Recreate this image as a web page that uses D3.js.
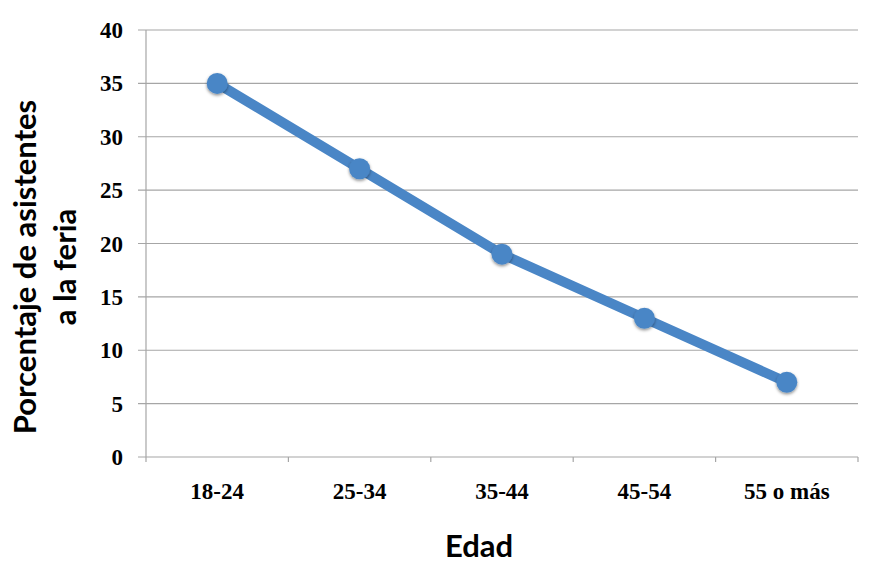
<!DOCTYPE html>
<html><head><meta charset="utf-8">
<script src="https://cdn.jsdelivr.net/npm/d3@7"></script>
<style>body{margin:0;background:#fff}</style>
</head><body>
<svg id="c" width="879" height="576"></svg>
<script>
const categories = ["18-24","25-34","35-44","45-54","55 o más"];
const values = [35, 27, 19, 13, 7];
const yTicks = [0,5,10,15,20,25,30,35,40];
const yTitle = ["Porcentaje de asistentes","a la feria"];
const xTitle = "Edad";

const svg = d3.select("#c");
const m = {l:146, r:858, t:30, b:457};
const x = d3.scaleBand().domain(categories).range([m.l, m.r]);
const y = d3.scaleLinear().domain([0,40]).range([m.b, m.t]);

const defs = svg.append("defs");
const f = defs.append("filter").attr("id","sh").attr("x","-50%").attr("y","-50%").attr("width","200%").attr("height","200%");
f.append("feDropShadow").attr("dx",0).attr("dy",1.5).attr("stdDeviation",1.6).attr("flood-color","#000").attr("flood-opacity",0.45);

// gridlines
svg.append("g").selectAll("line").data(yTicks).join("line")
  .attr("x1", m.l-8).attr("x2", m.r).attr("y1", d=>y(d)).attr("y2", d=>y(d))
  .attr("stroke","#a6a6a6").attr("stroke-width",1.2);
// y axis line
svg.append("line").attr("x1",m.l).attr("x2",m.l).attr("y1",m.t).attr("y2",m.b+5)
  .attr("stroke","#a6a6a6").attr("stroke-width",1.2);
// x ticks
const bounds = categories.map(c=>x(c)).concat([m.r]);
svg.append("g").selectAll("line").data(bounds.slice(1)).join("line")
  .attr("x1",d=>d).attr("x2",d=>d).attr("y1",m.b).attr("y2",m.b+5)
  .attr("stroke","#a6a6a6").attr("stroke-width",1.2);

// y labels
svg.append("g").selectAll("text").data(yTicks).join("text")
  .attr("x", 123).attr("y", d=>y(d)).attr("dy","0.35em").attr("text-anchor","end")
  .attr("font-family","Liberation Serif, serif").attr("font-weight","bold").attr("font-size",23)
  .attr("fill","#000").text(d=>d);
// x labels
svg.append("g").selectAll("text").data(categories).join("text")
  .attr("x", d=>x(d)+x.bandwidth()/2).attr("y", 499).attr("text-anchor","middle")
  .attr("font-family","Liberation Serif, serif").attr("font-weight","bold").attr("font-size",23)
  .attr("fill","#000").text(d=>d);

// line
const cx = (d,i)=>x(categories[i])+x.bandwidth()/2;
svg.append("path").datum(values)
  .attr("d", d3.line().x((d,i)=>cx(d,i)).y(d=>y(d)))
  .attr("fill","none").attr("stroke","#4a86c6").attr("stroke-width",10).attr("stroke-linejoin","round");
svg.append("g").selectAll("circle").data(values).join("circle")
  .attr("cx",(d,i)=>cx(d,i)).attr("cy",d=>y(d)).attr("r",10.5)
  .attr("fill","#4a86c6").attr("filter","url(#sh)");

// titles
svg.append("text").attr("x", 479).attr("y", 557).attr("text-anchor","middle")
  .attr("font-family","Lato, sans-serif").attr("font-weight","bold").attr("font-size",31)
  .attr("fill","#000").text(xTitle);
const yt = svg.append("text").attr("transform","translate(0,267) rotate(-90)")
  .attr("text-anchor","middle").attr("font-family","Lato, sans-serif").attr("font-weight","bold").attr("font-size",31).attr("fill","#000");
yt.selectAll("tspan").data(yTitle).join("tspan").attr("x",0).attr("y",(d,i)=>36+i*40).text(d=>d);
</script>
</body></html>
